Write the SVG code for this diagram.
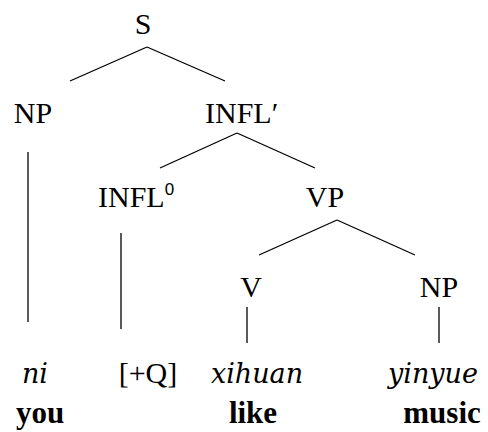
<svg xmlns="http://www.w3.org/2000/svg" width="488" height="432" viewBox="0 0 488 432">
<defs>
<style>
.edge{stroke:#000;stroke-width:1.3;fill:none}
text{font-family:'Liberation Serif',serif;fill:#000}
</style>
</defs>
<rect width="488" height="432" fill="#fff"/>
<g id="connectors">
<line class="edge" x1="147" y1="47" x2="70" y2="81"/>
<line class="edge" x1="147" y1="47" x2="225" y2="81"/>
<line class="edge" x1="28" y1="152" x2="28" y2="322"/>
<line class="edge" x1="237" y1="133" x2="160" y2="168"/>
<line class="edge" x1="237" y1="133" x2="315" y2="168"/>
<line class="edge" x1="121" y1="233" x2="121" y2="329"/>
<line class="edge" x1="337" y1="220" x2="259" y2="255"/>
<line class="edge" x1="337" y1="220" x2="415" y2="255"/>
<line class="edge" x1="247" y1="307" x2="247" y2="343"/>
<line class="edge" x1="439" y1="307" x2="439" y2="343"/>
</g>
<g id="S"><text x="143" y="34" style="font-family:'Liberation Serif',serif;font-size:30px" text-anchor="middle">S</text></g>
<g id="NP1"><text x="33" y="123" style="font-family:'Liberation Serif',serif;font-size:30px" text-anchor="middle">NP</text></g>
<g id="INFLbar"><text x="205" y="123" style="font-family:'Liberation Serif',serif;font-size:30px">INFL&#8242;</text></g>
<g id="INFL0"><text x="98" y="207" style="font-family:'Liberation Serif',serif;font-size:30px">INFL<tspan style="font-family:'Liberation Sans',sans-serif;font-size:17px" dy="-12">0</tspan></text></g>
<g id="VP"><text x="325" y="207" style="font-family:'Liberation Serif',serif;font-size:30px" text-anchor="middle">VP</text></g>
<g id="V"><text x="251" y="297" style="font-family:'Liberation Serif',serif;font-size:30px" text-anchor="middle">V</text></g>
<g id="NP2"><text x="439" y="297" style="font-family:'Liberation Serif',serif;font-size:30px" text-anchor="middle">NP</text></g>
<g id="Q"><text x="148" y="383" style="font-family:'Liberation Serif',serif;font-size:30px" text-anchor="middle">[+Q]</text></g>
<g id="ni"><text x="35" y="383" style="font-family:'DejaVu Serif',serif;font-style:italic;font-size:27px" text-anchor="middle">ni</text><text x="40" y="423" style="font-family:'Liberation Serif',serif;font-weight:bold;font-size:31px" text-anchor="middle">you</text></g>
<g id="xihuan"><text x="257" y="383" style="font-family:'DejaVu Serif',serif;font-style:italic;font-size:27px" text-anchor="middle">xihuan</text><text x="253" y="423" style="font-family:'Liberation Serif',serif;font-weight:bold;font-size:31px" text-anchor="middle">like</text></g>
<g id="yinyue"><text x="433" y="383" style="font-family:'DejaVu Serif',serif;font-style:italic;font-size:27px" text-anchor="middle">yinyue</text><text x="442" y="423" style="font-family:'Liberation Serif',serif;font-weight:bold;font-size:31px" text-anchor="middle">music</text></g>
</svg>
